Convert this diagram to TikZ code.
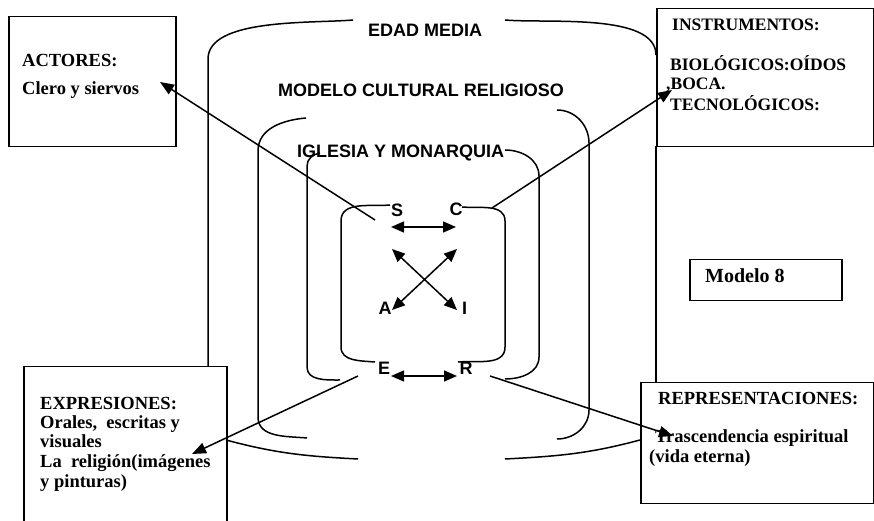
\documentclass[tikz,border=0pt]{standalone}
\usepackage{fontspec}
\setmainfont{Liberation Serif}
\setsansfont{Liberation Sans}
\usetikzlibrary{arrows.meta}

\tikzset{
    caja/.style={draw, line width=1.5pt, anchor=north west, inner sep=0pt},
    txt/.style={font=\bfseries\fontsize{18.5}{20}\selectfont, anchor=base west, inner sep=0pt},
    txtI/.style={txt, font=\bfseries\fontsize{17.5}{19}\selectfont},
    capa/.style={font=\sffamily\bfseries\fontsize{18}{20}\selectfont, anchor=base west, inner sep=0pt},
    letra/.style={font=\sffamily\bfseries\fontsize{18}{20}\selectfont, anchor=base, inner sep=0pt},
    borde/.style={line width=1.5pt},
    flecha/.style={line width=1.5pt, -{Triangle[length=14pt,width=11pt]}},
    doble/.style={line width=1.5pt, {Triangle[length=13pt,width=11pt]}-{Triangle[length=13pt,width=11pt]}}
}

\begin{document}
\begin{tikzpicture}[x=1pt,y=1pt]
            \useasboundingbox (0,0) rectangle (874,521);

            \node[caja, minimum width=167pt, minimum height=130pt] (actores) at (8,505) {};
            \node[caja, minimum width=217pt, minimum height=138pt] (instrumentos) at (656,513) {};
            \node[caja, minimum width=203pt, minimum height=160pt] (expresiones) at (23,155) {};
            \node[caja, minimum width=233pt, minimum height=121pt] (representaciones) at (640,139) {};
            \node[caja, minimum width=152pt, minimum height=41pt] (modelo) at (689,262) {};

            \node[txt] (tA1) at (22,454) {ACTORES:};
            \node[txt] (tA2) at (22,426) {Clero y siervos};
            \node[txtI] (tI1) at (672,490) {INSTRUMENTOS:};
            \node[txtI] (tI2) at (670,450) {BIOLÓGICOS:OÍDOS};
            \node[txtI] (tI3) at (666,431) {,BOCA.};
            \node[txtI] (tI4) at (670,410) {TECNOLÓGICOS:};
            \node[txt] (tE1) at (40,111) {EXPRESIONES:};
            \node[txt] (tE2) at (40,92) {Orales, \ escritas y};
            \node[txt] (tE3) at (40,73) {visuales};
            \node[txt] (tE4) at (40,53) {La \ religión(imágenes};
            \node[txt] (tE5) at (40,33) {y pinturas)};
            \node[txt] (tR1) at (658,116) {REPRESENTACIONES:};
            \node[txt] (tR2) at (655,78) {Trascendencia espiritual};
            \node[txt] (tR3) at (649,58) {(vida eterna)};
            \node[txt, font=\bfseries\fontsize{20}{22}\selectfont] (tM) at (705,238) {Modelo 8};

            \node[capa] (edad) at (368,484) {EDAD MEDIA};
            \node[capa] (cultural) at (278,424) {MODELO CULTURAL RELIGIOSO};
            \node[capa] (iglesia) at (297,363) {IGLESIA Y MONARQUIA};

            \draw[borde] (353,501) to [out=185,in=90,looseness=0.7] (208,462) -- (208,155);
            \draw[borde] (505,501) to [out=-5,in=90,looseness=0.7] (656,466);
            \draw[borde] (656,375) -- (656,139);
            \draw[borde] (226,81) to [out=-15,in=177] (358,62);
            \draw[borde] (505,62) to [out=3,in=195] (640,81);

            \draw[borde] (306,403) to [out=185,in=90] (258,370) -- (258,104) to [out=-90,in=175] (307,83);
            \draw[borde] (557,411) to [out=0,in=90] (589,378) -- (589,111) to [out=-90,in=0] (557,82);

            \draw[borde] (320,368) to [out=190,in=90] (307,355) -- (307,154) to [out=-90,in=180] (340,141);
            \draw[borde] (505,371) to [out=0,in=90] (539,345) -- (539,164) to [out=-90,in=0] (505,142);

            \draw[borde] (390,316) to [out=185,in=90] (341,300) -- (341,174) to [out=-90,in=175] (375,159);
            \draw[borde] (462,314) to [out=-5,in=90] (505,300) -- (505,174) to [out=-90,in=5] (458,159);

            \node[letra] (S) at (397,304) {S};
            \node[letra] (C) at (456,305) {C};
            \node[letra] (A) at (385,206) {A};
            \node[letra] (I) at (464.5,206) {I};
            \node[letra] (E) at (384,146) {E};
            \node[letra] (R) at (466,146) {R};

            \coordinate (sc1) at (391,294);
            \coordinate (sc2) at (456,294);
            \coordinate (ac1) at (392,211);
            \coordinate (ac2) at (457,272);
            \coordinate (si1) at (392,272);
            \coordinate (si2) at (457,211);
            \coordinate (er1) at (391,145);
            \coordinate (er2) at (457,145);
            \coordinate (oS) at (375,301);
            \coordinate (pA) at (160,439);
            \coordinate (oC) at (492,313);
            \coordinate (pI) at (672,431);
            \coordinate (oE) at (358,145);
            \coordinate (pE) at (192,67);
            \coordinate (oR) at (490,145);
            \coordinate (pR) at (673,85);

            \draw[doble] (sc1) -- (sc2);
            \draw[doble] (ac1) -- (ac2);
            \draw[doble] (si1) -- (si2);
            \draw[doble] (er1) -- (er2);
            \draw[flecha] (oS) -- (pA);
            \draw[flecha] (oC) -- (pI);
            \draw[flecha] (oE) -- (pE);
            \draw[flecha] (oR) -- (pR);
        \end{tikzpicture}
\end{document}
